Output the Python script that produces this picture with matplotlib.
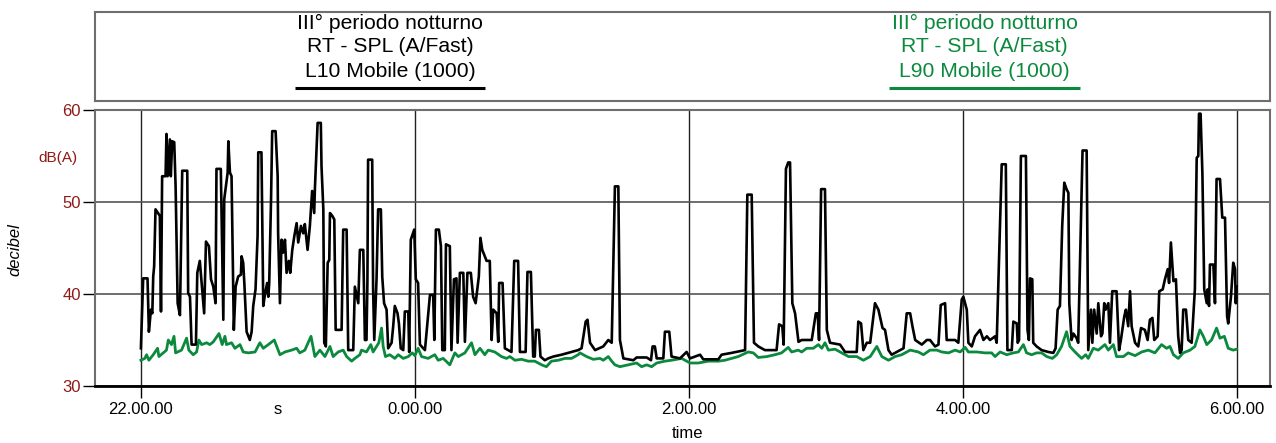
import matplotlib
matplotlib.use("Agg")
import matplotlib.pyplot as plt
from matplotlib.ticker import FixedLocator, FixedFormatter

# Rolling L10 / L90 levels (dB(A)), time in minutes after 22:00
l10_min = [
    0.0, 1.0, 2.9, 3.5, 4.4, 5.0, 5.4, 5.8, 6.4, 8.3, 8.8, 9.3, 10.8, 11.2, 11.7, 12.7, 13.1, 13.7, 14.6, 15.2,
    16.1, 17.1, 18.1, 20.3, 20.7, 21.5, 22.2, 24.1, 24.7, 25.8, 26.6, 27.7, 28.5, 29.8, 30.7, 31.7, 32.7, 33.1, 35.0, 36.1,
    36.5, 38.0, 38.3, 39.0, 39.7, 40.7, 41.5, 42.6, 43.8, 44.1, 44.8, 45.3, 46.3, 47.7, 48.5, 49.2, 50.2, 51.1, 51.4, 52.8,
    53.6, 54.3, 55.3, 55.8, 56.2, 57.0, 57.5, 59.0, 59.9, 60.1, 60.9, 61.6, 62.3, 63.1, 63.8, 64.8, 65.4, 66.3, 67.2, 68.2,
    68.9, 70.1, 71.1, 71.8, 73.0, 74.0, 75.0, 75.9, 76.2, 77.4, 78.8, 79.1, 79.9, 80.3, 81.0, 81.8, 82.5, 82.8, 83.8, 84.7,
    85.3, 87.9, 88.6, 90.1, 90.8, 93.0, 93.7, 95.2, 95.9, 97.4, 98.1, 98.8, 99.2, 99.5, 101.3, 101.7, 102.2, 102.8, 103.2, 103.9,
    105.1, 105.7, 106.5, 107.6, 108.3, 109.8, 110.5, 111.2, 112.4, 113.0, 113.8, 114.9, 115.6, 117.1, 117.5, 118.2, 119.7, 120.4, 121.4, 122.2,
    124.4, 126.6, 128.0, 128.5, 129.2, 130.5, 131.4, 132.0, 133.1, 133.6, 135.3, 136.0, 137.1, 138.2, 138.7, 139.7, 141.2, 141.9, 143.0, 144.5,
    145.5, 146.6, 148.0, 148.7, 149.5, 151.4, 152.8, 153.6, 154.3, 155.8, 156.5, 156.9, 158.4, 159.4, 162.3, 163.5, 165.2, 166.0, 168.5, 169.3,
    170.8, 171.8, 172.5, 173.0, 174.3, 175.0, 176.9, 178.4, 180.6, 184.2, 187.1, 191.5, 193.0, 194.8, 195.6, 196.7, 198.9, 202.5, 204.7, 206.2,
    207.6, 209.1, 209.8, 211.3, 215.7, 217.1, 221.5, 223.4, 224.1, 225.1, 225.9, 228.8, 229.5, 231.4, 232.4, 236.1, 239.0, 240.5, 244.9, 246.3,
    252.9, 254.3, 258.7, 264.6, 265.6, 267.5, 268.5, 270.4, 273.3, 278.4, 279.5, 280.9, 281.5, 282.5, 283.5, 284.3, 285.3, 286.5, 288.0, 289.4,
    293.8, 295.6, 296.4, 297.0, 297.9, 299.6, 300.4, 301.8, 306.2, 308.4, 313.5, 314.2, 315.4, 316.4, 317.9, 319.4, 321.5, 323.0, 324.8, 325.9,
    327.4, 328.8, 330.3, 334.0, 335.4, 336.9, 337.9, 339.1, 342.0, 344.2, 345.6, 347.8, 349.3, 350.3, 352.2, 352.9, 356.6, 358.0, 359.5, 360.2,
    361.7, 362.4, 363.9, 365.3, 367.5, 369.0, 370.5, 371.9, 374.1, 374.8, 377.0, 378.8, 379.5, 381.4, 382.1, 383.6, 384.0, 384.6, 385.4, 387.6,
    388.3, 388.9, 389.4, 390.4, 390.8, 392.3, 394.5, 397.4, 399.6, 400.6, 401.5, 402.5, 403.5, 404.4, 405.4, 406.2, 406.6, 407.6, 408.4, 409.8,
    410.5, 412.4, 414.2, 414.9, 416.1, 416.7, 417.5, 418.6, 419.3, 420.5, 421.1, 421.9, 422.5, 423.7, 424.4, 425.4, 427.3, 428.4, 429.2, 430.7,
    431.4, 432.4, 433.2, 433.9, 435.4, 436.8, 438.0, 439.7, 440.9, 441.9, 443.0, 443.8, 445.3, 446.0, 447.5, 448.5, 449.7, 450.3, 451.1, 452.2,
    453.3, 454.3, 455.1, 455.8, 456.5, 457.7, 458.7, 460.2, 461.6, 462.4, 463.1, 463.4, 464.1, 464.9, 465.7, 466.8, 467.2, 467.8, 468.2, 469.7,
    470.4, 471.1, 472.6, 473.6, 474.8, 475.7, 476.2, 477.4, 478.4, 479.2, 479.5, 479.9,
]
l10_db = [
    34.1, 41.7, 41.7, 35.9, 38.3, 37.9, 41.9, 43.0, 49.2, 48.5, 38.1, 52.8, 52.8, 57.4, 52.8, 56.8, 52.8, 56.6, 56.5, 51.7,
    39.0, 37.7, 53.4, 53.4, 40.1, 39.7, 34.5, 34.5, 42.3, 43.6, 41.2, 37.9, 45.7, 45.2, 41.6, 40.8, 39.0, 53.6, 53.6, 37.2,
    50.3, 53.2, 56.6, 53.2, 52.8, 36.1, 40.8, 41.9, 42.1, 44.1, 43.4, 41.2, 35.9, 35.0, 35.9, 38.7, 40.5, 46.3, 55.4, 55.4,
    38.7, 39.9, 41.2, 39.7, 41.2, 50.3, 57.7, 57.7, 52.8, 46.6, 39.0, 45.9, 44.5, 45.9, 42.3, 43.6, 42.3, 44.8, 46.3, 47.7,
    45.6, 47.4, 46.6, 47.6, 44.8, 47.4, 51.2, 48.8, 51.4, 58.6, 58.6, 53.9, 49.2, 34.7, 34.3, 43.4, 43.7, 48.8, 48.5, 48.1,
    36.1, 36.1, 47.0, 47.0, 33.9, 33.9, 40.8, 39.0, 44.8, 44.8, 35.0, 35.0, 41.2, 54.6, 54.6, 40.5, 35.0, 39.0, 41.6, 49.2,
    49.2, 41.9, 39.0, 38.3, 34.1, 34.7, 36.5, 38.7, 37.9, 36.8, 34.1, 33.9, 38.1, 38.1, 33.7, 45.9, 47.0, 41.6, 41.2, 34.5,
    33.9, 39.9, 39.9, 35.0, 47.0, 47.0, 45.2, 33.9, 33.9, 45.4, 45.2, 33.9, 41.6, 41.7, 34.7, 42.3, 42.3, 34.8, 42.3, 42.3,
    39.7, 39.0, 41.9, 46.1, 44.8, 43.6, 43.6, 35.0, 38.3, 37.9, 34.8, 41.2, 41.2, 34.1, 33.7, 43.6, 43.6, 33.7, 33.7, 42.4,
    42.4, 33.2, 33.2, 36.1, 36.1, 33.2, 32.8, 33.0, 33.2, 33.4, 33.6, 33.9, 34.1, 37.0, 37.2, 34.7, 33.9, 34.3, 35.0, 34.7,
    51.7, 51.7, 35.0, 33.0, 32.8, 33.1, 33.1, 32.8, 34.3, 34.3, 33.0, 33.0, 35.9, 35.9, 33.2, 33.0, 33.7, 33.0, 33.4, 32.9,
    32.9, 33.4, 33.6, 33.9, 50.8, 50.8, 34.7, 34.3, 33.9, 33.9, 36.7, 36.5, 34.5, 53.6, 54.3, 54.3, 39.0, 37.9, 34.8, 35.0,
    35.0, 37.9, 37.9, 35.0, 51.4, 51.4, 36.1, 34.7, 34.5, 33.7, 33.7, 37.0, 36.8, 33.9, 34.7, 34.7, 39.0, 38.3, 36.3, 36.1,
    33.9, 33.4, 33.6, 34.1, 37.9, 37.9, 36.5, 35.0, 34.5, 35.0, 35.0, 34.3, 34.5, 38.8, 39.0, 35.0, 35.0, 34.7, 39.4, 39.7,
    38.3, 34.7, 34.3, 35.4, 36.1, 35.0, 35.4, 35.0, 35.4, 34.7, 54.1, 54.1, 33.9, 33.9, 37.0, 36.8, 34.7, 35.0, 55.0, 55.0,
    36.1, 35.0, 41.7, 41.6, 34.7, 34.3, 33.9, 33.7, 33.6, 34.1, 38.3, 38.7, 47.4, 52.1, 51.4, 51.0, 39.0, 35.0, 35.7, 35.2,
    34.7, 55.6, 55.6, 33.9, 38.3, 34.7, 38.3, 35.7, 39.0, 35.4, 35.7, 39.0, 38.3, 39.0, 34.7, 40.3, 40.3, 33.9, 35.0, 37.6,
    38.3, 36.5, 40.3, 36.5, 34.7, 34.3, 36.3, 36.1, 35.0, 37.2, 37.4, 35.0, 35.4, 40.3, 40.5, 41.6, 42.7, 41.2, 45.6, 41.4,
    41.6, 35.4, 33.6, 33.9, 38.3, 38.3, 35.0, 34.7, 40.5, 54.8, 55.0, 59.6, 59.6, 53.0, 40.5, 39.0, 40.5, 38.7, 43.2, 43.2,
    39.0, 52.5, 52.5, 48.3, 48.3, 37.6, 36.8, 39.7, 43.4, 42.7, 39.0, 40.8,
]

l90_min = [
    0.0, 1.7, 2.5, 3.5, 5.4, 7.3, 7.9, 9.8, 11.2, 12.0, 13.4, 14.5, 15.2, 17.8, 20.0, 21.0, 22.9, 24.4, 25.4, 26.6,
    28.8, 30.2, 31.7, 34.2, 35.6, 36.8, 37.5, 39.7, 41.2, 43.4, 44.8, 47.0, 50.0, 52.1, 53.6, 55.8, 58.4, 60.9, 63.1, 66.0,
    68.2, 69.6, 71.8, 74.5, 76.2, 78.4, 80.6, 82.8, 84.2, 86.4, 88.6, 90.1, 92.3,
    93.7, 95.9, 96.6, 98.8, 100.7, 101.7, 104.2, 105.4, 106.1, 107.1, 109.0, 111.2, 112.7, 114.9, 117.1, 118.8, 120.0, 121.4, 122.9, 125.8,
    128.7, 130.2, 132.4, 135.3, 137.5, 139.0, 141.9, 144.8, 146.3, 148.5, 150.6, 152.1, 155.0, 157.9, 160.1, 161.6, 163.8, 166.7, 169.6, 172.5,
    175.5, 177.6, 179.8, 182.8, 185.7, 188.6, 191.5,
    192.3, 195.2, 198.1, 201.1, 202.5, 204.7, 206.2, 207.6, 209.8, 213.5, 217.1, 219.3, 221.5, 223.7, 225.9, 229.5, 232.4, 236.8, 240.5, 244.1,
    248.5, 252.9, 255.8, 258.7, 261.6, 266.0, 268.2, 270.4, 274.1, 277.7, 280.6, 283.5, 285.0, 287.9,
    289.4, 291.6, 294.5, 296.7, 298.2, 299.6, 301.1, 304.0, 306.9, 309.9, 313.5, 316.4, 319.4, 322.3, 324.5, 327.4, 330.3, 333.2, 336.9, 340.5,
    342.7, 345.6, 348.6, 350.7, 353.7, 356.6, 358.8, 361.0, 362.4, 366.1, 369.7, 372.6, 374.1, 376.3, 379.2, 382.1,
    384.3, 386.5, 387.9, 390.1, 392.3, 394.5, 396.7, 399.2, 401.1, 403.2, 405.4, 406.9, 409.1, 412.0, 413.8, 414.9, 417.1, 419.3, 422.2, 423.7,
    425.9, 427.3, 430.3, 432.4, 435.4, 438.3, 441.2, 444.1, 447.0, 449.2, 450.7, 452.2, 454.3, 456.5, 459.5, 461.6, 463.8, 465.3, 466.8, 468.9,
    471.1, 472.6, 474.5, 476.2, 478.4, 479.9,
]
l90_db = [
    32.8, 33.0, 33.4, 32.8, 33.4, 34.1, 33.2, 33.6, 33.9, 35.0, 34.5, 35.4, 33.6, 33.9, 35.2, 33.9, 33.4, 33.7, 35.0, 34.5,
    34.7, 34.5, 34.8, 35.7, 34.5, 35.4, 34.5, 34.7, 34.1, 34.5, 33.7, 33.6, 33.7, 34.7, 34.1, 34.5, 35.0, 33.4, 33.7, 33.9,
    34.1, 33.6, 33.9, 35.4, 33.2, 33.9, 33.2, 34.3, 33.2, 33.7, 33.9, 33.2, 32.7,
    33.0, 33.4, 33.9, 33.7, 34.5, 33.7, 34.7, 36.3, 34.3, 33.2, 33.4, 33.0, 33.4, 33.0, 33.2, 33.6, 33.3, 34.1, 33.2, 33.0,
    33.4, 32.8, 33.0, 32.3, 33.6, 33.2, 33.6, 34.7, 33.4, 34.1, 33.4, 33.9, 33.7, 33.2, 33.0, 33.2, 32.8, 32.9, 32.7, 32.7,
    32.3, 32.1, 32.7, 32.8, 33.0, 33.0, 33.4,
    33.6, 33.2, 32.9, 33.0, 32.8, 33.2, 32.7, 32.3, 32.1, 32.3, 32.5, 32.1, 32.3, 32.1, 32.5, 32.7, 32.8, 33.0, 32.5, 32.5,
    32.7, 32.7, 32.8, 33.0, 33.2, 33.7, 33.6, 33.1, 33.2, 33.4, 33.6, 34.2, 33.7, 33.9,
    33.7, 34.1, 34.1, 34.5, 34.1, 34.7, 33.9, 34.0, 33.6, 33.2, 33.2, 32.8, 33.2, 34.3, 33.2, 32.8, 33.2, 33.4, 33.9, 33.7,
    33.4, 33.9, 33.9, 33.7, 33.6, 33.9, 33.7, 34.2, 33.7, 33.7, 33.6, 33.6, 33.2, 33.7, 33.4, 33.6,
    33.7, 34.5, 33.6, 33.4, 33.6, 33.6, 33.2, 33.0, 33.4, 34.3, 35.9, 34.3, 33.7, 33.0, 33.4, 33.0, 34.1, 33.9, 34.5, 33.9,
    34.5, 33.2, 33.2, 33.6, 33.3, 33.7, 33.9, 33.6, 34.5, 34.1, 34.3, 33.4, 33.0, 33.6, 33.9, 34.3, 36.1, 35.4, 34.5, 35.0,
    36.3, 35.2, 35.4, 34.1, 33.9, 34.0,
]

time_ticks = [0, 120, 240, 360, 480]
time_labels = ["22.00.00", "0.00.00", "2.00.00", "4.00.00", "6.00.00"]
db_ticks = [30, 40, 50, 60]

title_lines = ["III° periodo notturno", "RT - SPL (A/Fast)"]
series_names = ["L10 Mobile (1000)", "L90 Mobile (1000)"]

BLACK = "#000000"
GREEN = "#0B8A3E"
RED = "#8E1A16"
FRAME = "#6E6E6E"
FONT = ["Liberation Sans", "DejaVu Sans"]

plt.rcParams["font.family"] = FONT

fig = plt.figure(figsize=(12.76, 4.43), dpi=100)
W, H = 1276, 443

# ---- header box with the two series captions
box = fig.add_axes([95 / W, 1 - 101 / H, 1175 / W, 89 / H])
box.set_xlim(0, 1)
box.set_ylim(0, 1)
box.set_xticks([])
box.set_yticks([])
for sp in box.spines.values():
    sp.set_color(FRAME)
    sp.set_linewidth(1.5)

for cx, name, col in [(0.251, series_names[0], BLACK), (0.757, series_names[1], GREEN)]:
    for yy, txt in zip([0.876, 0.607, 0.326], title_lines + [name]):
        box.text(cx, yy, txt, ha="center", va="center", fontsize=15.2, color=col)
    box.plot([cx - 0.081, cx + 0.081], [0.146, 0.146], color=col, lw=2.2,
             solid_capstyle="butt")

# ---- main chart
ax = fig.add_axes([95 / W, 1 - 386 / H, 1175 / W, 276 / H])
ax.set_xlim(-20.1, 494.5)
ax.set_ylim(30, 60)

ax.plot(l90_min, l90_db, color=GREEN, lw=2.0, zorder=3)
ax.plot(l10_min, l10_db, color=BLACK, lw=1.9, zorder=4)

ax.xaxis.set_major_locator(FixedLocator(time_ticks))
ax.xaxis.set_major_formatter(FixedFormatter(time_labels))
ax.xaxis.set_minor_locator(FixedLocator([60]))
ax.xaxis.set_minor_formatter(FixedFormatter(["s"]))
ax.tick_params(axis="x", which="major", direction="out", length=8.5, width=1.0,
               color=BLACK, labelsize=12, pad=3)
ax.tick_params(axis="x", which="minor", length=0, labelsize=12, pad=11.5)

ax.set_yticks(db_ticks)
ax.tick_params(axis="y", direction="out", length=9, width=1.0, color=BLACK,
               labelsize=12, labelcolor=RED, pad=1)

ax.grid(True, axis="x", which="major", color="#222222", lw=1.0)
ax.grid(True, axis="y", color="#555555", lw=1.2)
ax.set_axisbelow(True)

for side in ("left", "top", "right"):
    ax.spines[side].set_color(FRAME)
    ax.spines[side].set_linewidth(1.5)
ax.spines["bottom"].set_color(BLACK)
ax.spines["bottom"].set_linewidth(2.0)

fig.text(688 / W, 1 - 433 / H, "time", fontsize=12, ha="center", va="center")
fig.text(15 / W, 1 - 250 / H, "decibel", fontsize=12, style="italic",
         rotation=90, ha="center", va="center")
fig.text(58 / W, 1 - 158 / H, "dB(A)", color=RED, fontsize=11,
         ha="center", va="center")

fig.savefig("out.png", dpi=100)
